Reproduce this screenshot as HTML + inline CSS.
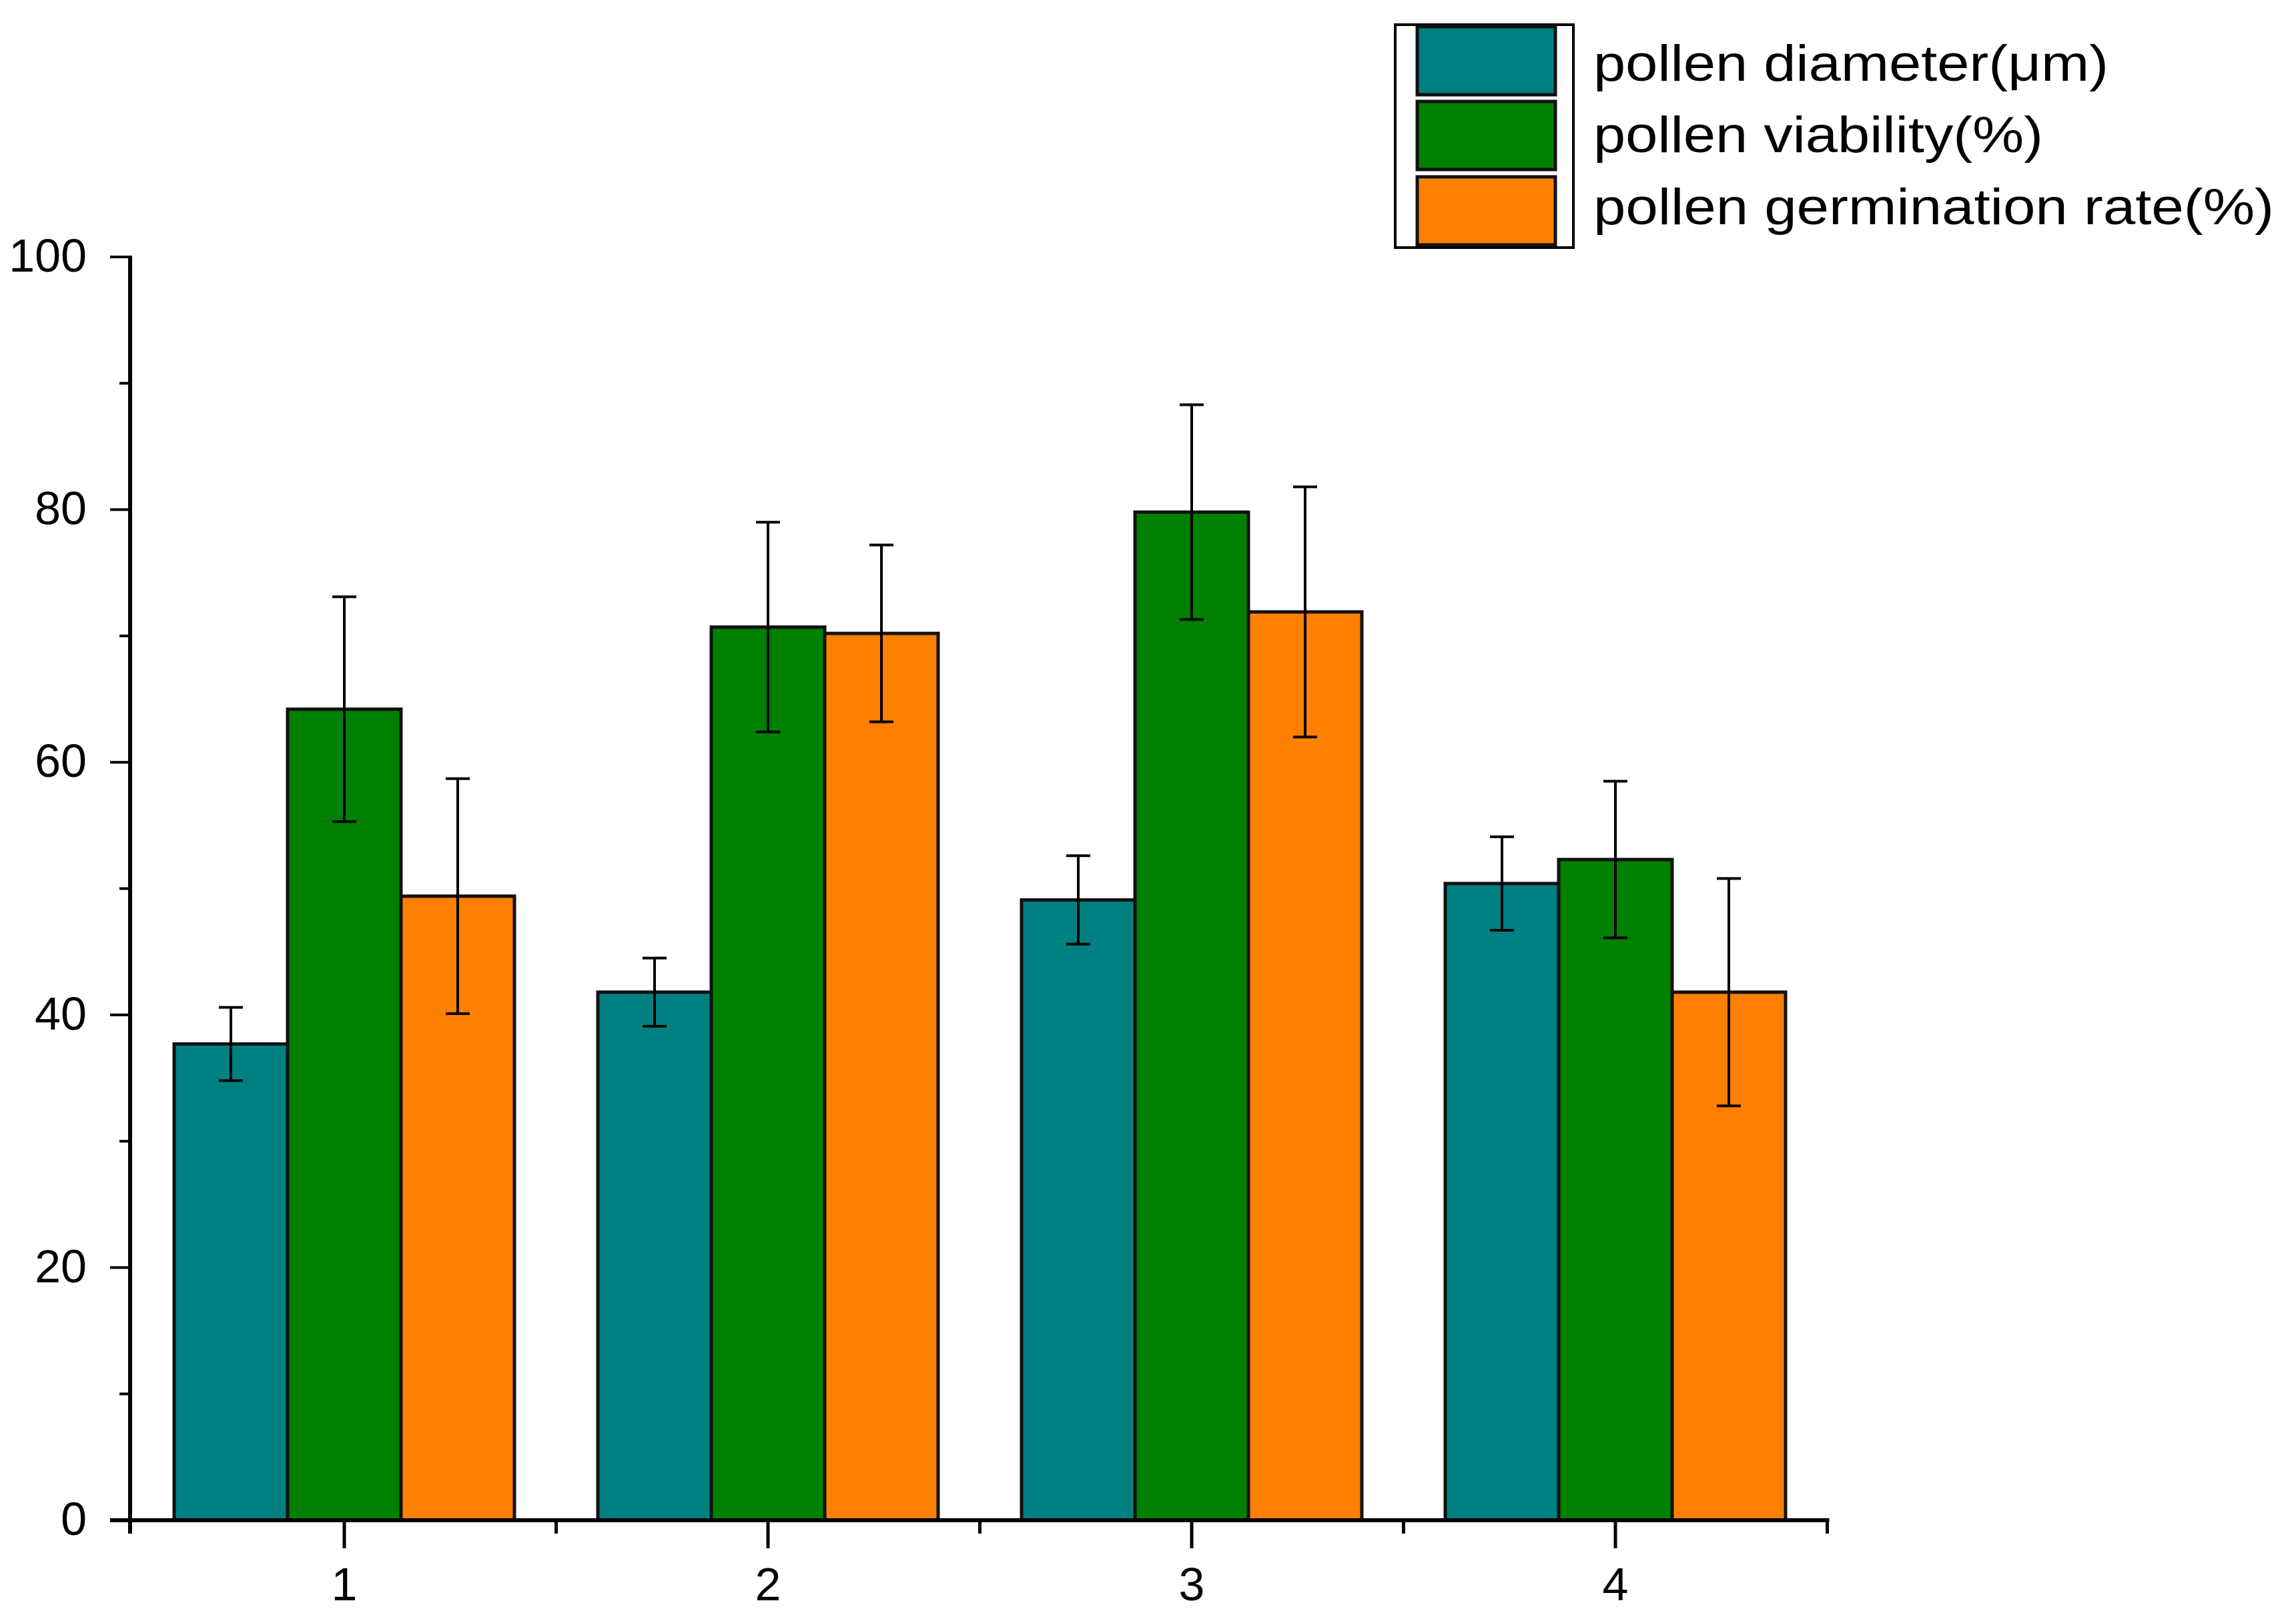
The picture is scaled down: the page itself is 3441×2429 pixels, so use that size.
<!DOCTYPE html>
<html>
<head>
<meta charset="utf-8">
<style>
  html, body { margin: 0; padding: 0; background: #fff; }
  svg { display: block; }
  text { font-family: "Liberation Sans", "DejaVu Sans", sans-serif; fill: #000; }
</style>
</head>
<body>
<svg id="chart" width="3441" height="2429" viewBox="0 0 3441 2429" xmlns="http://www.w3.org/2000/svg">
  <g id="bars"></g>
  <g id="errs"></g>
  <g id="axes"></g>
  <g id="legend">
    <rect x="2091" y="37" width="267" height="334" fill="#fff" stroke="#000" stroke-width="4"/>
  </g>
</svg>
<script>
const categories = ["1", "2", "3", "4"];
const seriesNames = ["pollen diameter(\u03bcm)", "pollen viability(%)", "pollen germination rate(%)"];
const diameter = [37.7, 41.8, 49.1, 50.4];
const diameterErr = [2.9, 2.7, 3.5, 3.7];
const viability = [64.2, 70.7, 79.8, 52.3];
const viabilityErr = [8.9, 8.3, 8.5, 6.2];
const germination = [49.4, 70.2, 71.9, 41.8];
const germinationErr = [9.3, 7.0, 9.9, 9.0];
const yTicks = [0, 20, 40, 60, 80, 100];
const yMinorTicks = [10, 30, 50, 70, 90];

const NS = "http://www.w3.org/2000/svg";
const colors = ["#008080", "#008000", "#ff8000"];
const values = [diameter, viability, germination];
const errs = [diameterErr, viabilityErr, germinationErr];

const axisX = 195, y0 = 2278, y100 = 385;
const firstCenter = 516, catStep = 635, barW = 170;
function yScale(v) { return y0 - (v / 100) * (y0 - y100); }
function xCenter(i) { return firstCenter + i * catStep; }

function mk(tag, attrs, parent) {
  const el = document.createElementNS(NS, tag);
  for (const k in attrs) el.setAttribute(k, attrs[k]);
  parent.appendChild(el);
  return el;
}

const barsG = document.getElementById('bars');
const errG = document.getElementById('errs');
const axesG = document.getElementById('axes');

for (let s = 0; s < 3; s++) {
  for (let i = 0; i < categories.length; i++) {
    const cx = xCenter(i) + (s - 1) * barW;
    const v = values[s][i];
    const top = yScale(v);
    const r = mk('rect', { x: cx - barW / 2, y: top, width: barW, height: y0 - top, fill: colors[s], stroke: '#111', 'stroke-width': 5 }, barsG);
    
    
    const e = errs[s][i];
    const hi = yScale(v + e), lo = yScale(v - e);
    const g = mk('g', {}, errG);
    
    
    mk('line', { x1: cx, x2: cx, y1: hi, y2: lo, stroke: '#000', 'stroke-width': 4 }, g);
    mk('line', { x1: cx - 18, x2: cx + 18, y1: hi, y2: hi, stroke: '#000', 'stroke-width': 4 }, g);
    mk('line', { x1: cx - 18, x2: cx + 18, y1: lo, y2: lo, stroke: '#000', 'stroke-width': 4 }, g);
  }
}

const xEnd = xCenter(categories.length - 1) + catStep / 2;
const yAxis = mk('line', { x1: axisX, x2: axisX, y1: y100 - 2, y2: y0 + 20, stroke: '#000', 'stroke-width': 6 }, axesG);


const xAxis = mk('line', { x1: axisX - 30, x2: xEnd + 3, y1: y0, y2: y0, stroke: '#000', 'stroke-width': 6 }, axesG);



yTicks.forEach(t => {
  const y = yScale(t);
  mk('line', { x1: axisX - 30, x2: axisX, y1: y, y2: y, stroke: '#000', 'stroke-width': 4 }, axesG);
  const lbl = mk('text', { x: 130, y: y + 22, 'font-size': 70, 'text-anchor': 'end' }, axesG);
  lbl.textContent = String(t);
  
  
});
yMinorTicks.forEach(t => {
  const y = yScale(t);
  mk('line', { x1: axisX - 16, x2: axisX, y1: y, y2: y, stroke: '#000', 'stroke-width': 4 }, axesG);
});
for (let i = 0; i < categories.length; i++) {
  const x = xCenter(i);
  mk('line', { x1: x, x2: x, y1: y0, y2: y0 + 42, stroke: '#000', 'stroke-width': 5 }, axesG);
  const lbl = mk('text', { x: x, y: y0 + 120, 'font-size': 70, 'text-anchor': 'middle' }, axesG);
  lbl.textContent = categories[i];
  
  
  const mx = x + catStep / 2;
  mk('line', { x1: mx, x2: mx, y1: y0, y2: y0 + 20, stroke: '#000', 'stroke-width': 5 }, axesG);
}
mk('line', { x1: axisX, x2: axisX, y1: y0, y2: y0 + 20, stroke: '#000', 'stroke-width': 5 }, axesG);

const legG = document.getElementById('legend');
const rowsY = [40, 152, 265];
const textY = [121, 228, 336];
const textLens = [772, 674, 1020];
for (let s = 0; s < 3; s++) {
  const sw = mk('rect', { x: 2124, y: rowsY[s], width: 207, height: 102, fill: colors[s], stroke: '#111', 'stroke-width': 5 }, legG);
  
  
  const t = mk('text', { x: 2388, y: textY[s], 'font-size': 76, textLength: textLens[s], lengthAdjust: 'spacingAndGlyphs' }, legG);
  t.textContent = seriesNames[s];
  
  
}
</script>
</body>
</html>
